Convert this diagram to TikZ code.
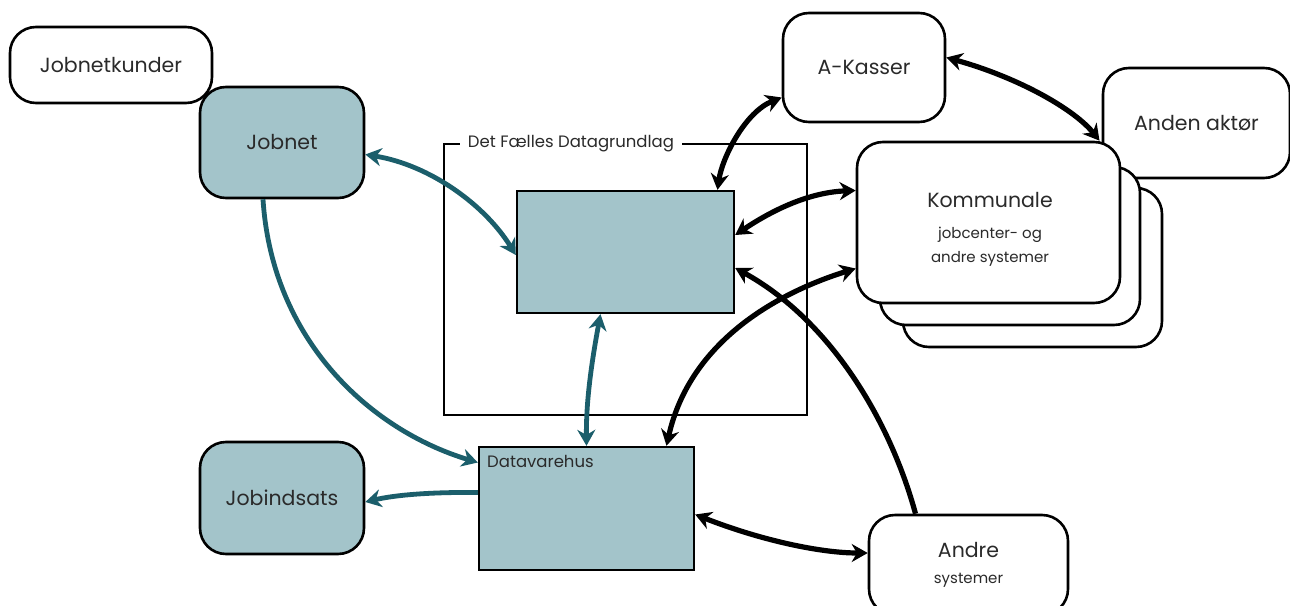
\documentclass[tikz,border=0pt]{standalone}
\usepackage{fontspec}
\setmainfont{Poppins}
\usetikzlibrary{arrows.meta,calc}
\definecolor{boxfill}{HTML}{A3C4CA}
\definecolor{tealarr}{HTML}{1B5E6B}
\definecolor{txt}{HTML}{2A2A2A}
\newcommand{\smalltxt}{\fontsize{15}{20}\selectfont}
\begin{document}
\begin{tikzpicture}[x=1pt,y=-1pt,
  rbox/.style={draw=black,line width=2.6pt,rounded corners=26pt,fill=white,minimum width=#1,align=center,text=txt,font=\fontsize{20.5}{24}\selectfont},
  tbox/.style={rbox=#1,fill=boxfill},
  sq/.style={draw=black,line width=2.4pt,fill=boxfill,minimum width=#1},
  tarr/.style={draw=tealarr,line width=4.8pt,-{Stealth[length=16pt,width=18pt]}},
  tdarr/.style={draw=tealarr,line width=4.8pt,{Stealth[length=16pt,width=18pt]}-{Stealth[length=16pt,width=18pt]}},
  barr/.style={draw=black,line width=5.2pt,-{Stealth[length=16pt,width=18pt]}},
  bdarr/.style={draw=black,line width=5.2pt,{Stealth[length=16pt,width=18pt]}-{Stealth[length=16pt,width=18pt]}}]
\useasboundingbox (0,0) rectangle (1290,605);
\fill[white] (0,0) rectangle (1290,605);

% boxes
\node[rbox=202pt,minimum height=76pt] (jk) at (111,65) {Jobnetkunder};
\node[tbox=164pt,minimum height=111pt] (jn) at (282,142.5) {Jobnet};
\node[draw=black,line width=1.8pt,minimum width=363pt,minimum height=271pt] (frame) at (625.5,279.5) {};
\node[fill=white,inner xsep=8pt,inner ysep=2pt,text=txt,font=\fontsize{16.5}{20}\selectfont] (ftitle) at (571,144) {Det Fælles Datagrundlag};
\node[sq=217pt,minimum height=122pt] (core) at (625.5,252) {};
\node[rbox=162pt,minimum height=109pt] (ak) at (864,67.5) {A-Kasser};
\node[rbox=187pt,minimum height=110pt] (aa) at (1196.5,123) {Anden aktør};
\node[rbox=259pt,minimum height=159pt] (k3) at (1032.5,267.5) {};
\node[rbox=260pt,minimum height=158pt] (k2) at (1010,246) {};
\node[rbox=263pt,minimum height=161pt] (k1) at (988.5,222.5) {};
\node[align=center,text=txt,font=\fontsize{20.5}{24}\selectfont] (k1t) at (990,229) {Kommunale\\[7pt]{\smalltxt jobcenter- og}\\{\smalltxt andre systemer}};
\node[sq=215pt,minimum height=123pt] (dv) at (586.5,508.5) {};
\node[anchor=north west,inner sep=0pt,text=txt,font=\fontsize{16.5}{20}\selectfont] (dvl) at (487,455) {Datavarehus};
\node[tbox=164pt,minimum height=112pt] (ji) at (282,498) {Jobindsats};
\node[rbox=199pt,minimum height=100pt] (an) at (968.5,565) {Andre\\[2pt]{\smalltxt systemer}};

% teal connectors
\draw[tdarr] ([yshift=-12pt]jn.east) .. controls (430,165) and (485,205) .. ([yshift=-3pt]core.west);
\draw[tarr] ([xshift=-19pt]jn.south) .. controls (272,340) and (370,430) .. ([yshift=46pt]dv.west);
\draw[tdarr] ([xshift=-25pt]core.south) .. controls (592,360) and (586,400) .. (dv.north);
\draw[tarr] ([yshift=16pt]dv.west) .. controls (430,492) and (395,495) .. ([yshift=-4pt]ji.east);

% black connectors
\draw[bdarr] ([yshift=-30pt]ak.west) .. controls (745,112) and (722,158) .. ([xshift=92pt]core.north);
\draw[bdarr] ([yshift=17pt]core.east) .. controls (780,205) and (815,192) .. ([yshift=32pt]k1.west);
\draw[barr] ([xshift=-53pt]an.north) .. controls (890,420) and (830,320) .. ([yshift=-16pt]core.east);
\draw[bdarr] ([xshift=80pt]dv.north) .. controls (690,340) and (780,292) .. ([yshift=-46pt]k1.west);
\draw[bdarr] ([yshift=10pt]ak.east) .. controls (1020,78) and (1075,110) .. ([xshift=111pt]k1.north);
\draw[bdarr] ([yshift=-6pt]dv.east) .. controls (760,540) and (820,553) .. ([yshift=12pt]an.west);
\end{tikzpicture}
\end{document}
